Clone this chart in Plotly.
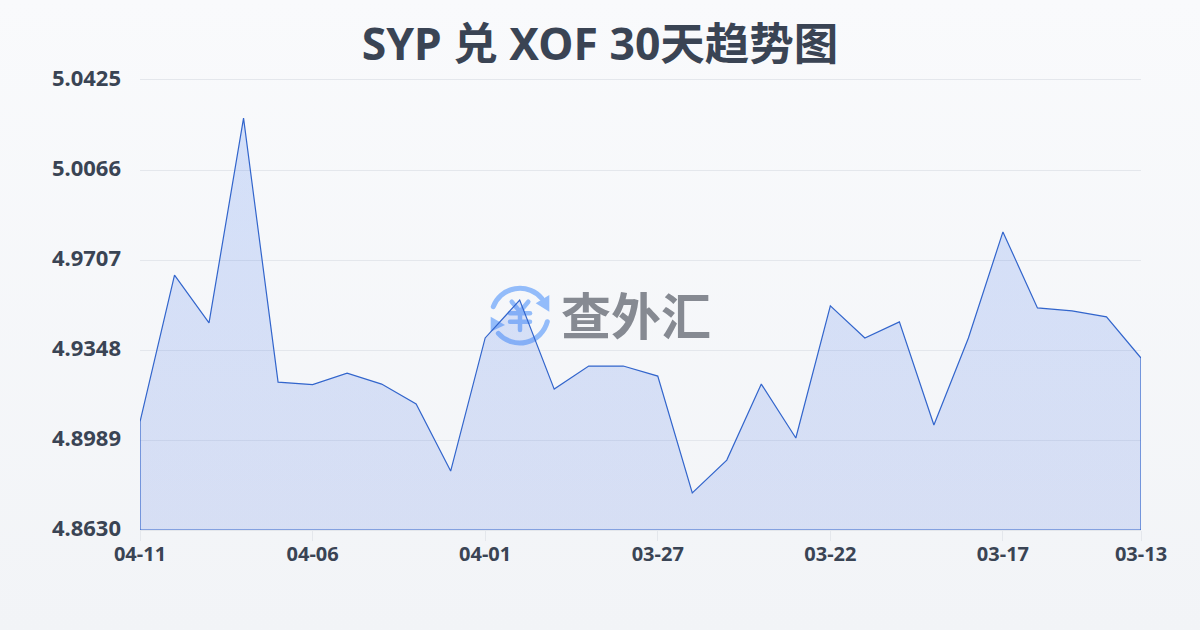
import base64
import plotly.graph_objects as go

dates = ["04-11","04-10","04-09","04-08","04-07","04-06","04-05","04-04","04-03","04-02",
         "04-01","03-31","03-30","03-29","03-28","03-27","03-26","03-25","03-24","03-23",
         "03-22","03-21","03-20","03-19","03-18","03-17","03-16","03-15","03-14","03-13"]
rates = [4.9061,4.9647,4.9456,5.0273,4.9220,4.9210,4.9256,4.9212,4.9133,4.8865,
         4.9396,4.9547,4.9192,4.9284,4.9284,4.9244,4.8778,4.8909,4.9212,4.8997,
         4.9524,4.9396,4.9460,4.9049,4.9396,4.9819,4.9516,4.9504,4.9480,4.9316]
y_ticks = [4.8630,4.8989,4.9348,4.9707,5.0066,5.0425]
y_labels = ["4.8630","4.8989","4.9348","4.9707","5.0066","5.0425"]
x_ticks = ["04-11","04-06","04-01","03-27","03-22","03-17","03-13"]
title = "SYP 兑 XOF 30天趋势图"
logo_text = "查外汇"

FONT = "'Noto Sans','Noto Sans CJK SC',sans-serif"
INK = "#3a4454"

def data_uri(svg):
    return "data:image/svg+xml;base64," + base64.b64encode(svg.encode()).decode()

bg = data_uri('<svg xmlns="http://www.w3.org/2000/svg" width="1200" height="630">'
              '<defs><linearGradient id="g" x1="0" y1="0" x2="0" y2="1">'
              '<stop offset="0" stop-color="#f9fafc"/><stop offset="1" stop-color="#f2f4f7"/>'
              '</linearGradient></defs><rect width="1200" height="630" fill="url(#g)"/></svg>')

logo = data_uri('<svg xmlns="http://www.w3.org/2000/svg" width="64" height="64" viewBox="0 0 64 64">'
                '<g fill="none" stroke="#93bcfa" stroke-width="5" stroke-linecap="round">'
                '<path d="M4.3 22.7 A28.5 28.5 0 0 1 52.7 14.3"/><path d="M58.3 37.7 A28.5 28.5 0 0 1 9.3 49.3"/></g>'
                '<path d="M46.7 19.3 L60.3 11 L60.3 27.7 Z" fill="#93bcfa"/><path d="M16 41 L1.7 32.7 L1.7 47.7 Z" fill="#93bcfa"/>'
                '<g fill="none" stroke="#93bcfa" stroke-width="4.5" stroke-linecap="round">'
                '<path d="M22.7 17.7 L31 27.7 L39.3 17.7"/><path d="M21 29.3 H41"/><path d="M21 37.7 H41"/><path d="M31 28 V46"/></g></svg>')

fig = go.Figure()
# closed outline: the series, then down to the axis floor and back to the start
fig.add_trace(go.Scatter(
    x=dates + [dates[-1], dates[0], dates[0]],
    y=rates + [y_ticks[0], y_ticks[0], rates[0]],
    mode="lines",
    line=dict(color="#3265cc", width=1.2),
    fill="toself",
    fillgradient=dict(type="vertical", colorscale=[[0, "rgba(70,110,225,0.165)"], [1, "rgba(70,125,240,0.20)"]]),
    hoverinfo="skip", showlegend=False, cliponaxis=False,
))
fig.update_layout(
    width=1200, height=630,
    margin=dict(l=140, r=59, t=80, b=100),
    paper_bgcolor="#f5f6f9", plot_bgcolor="rgba(0,0,0,0)",
    font=dict(family=FONT, color=INK),
    title=dict(text=f"<b>{title}</b>", x=0.5, xanchor="center", y=0.929, yanchor="middle",
               font=dict(size=44.5, color=INK, family=FONT)),
    images=[
        dict(source=bg, xref="paper", yref="paper", x=-140/1001, y=1+80/450, sizex=1200/1001, sizey=630/450,
             xanchor="left", yanchor="top", sizing="stretch", layer="below"),
        dict(source=logo, xref="paper", yref="paper", x=(489-140)/1001, y=(530-284)/450, sizex=64/1001, sizey=64/450,
             xanchor="left", yanchor="top", sizing="stretch", layer="below"),
    ],
    annotations=[dict(text=f"<b>{logo_text}</b>", xref="paper", yref="paper",
                      x=(636-140)/1001, y=(530-313)/450, showarrow=False,
                      font=dict(size=50, color="#868a92", family="'Noto Sans CJK SC'"))],
    xaxis=dict(type="category", categoryorder="array", categoryarray=dates, range=[0, len(dates)-1],
               tickmode="array", tickvals=x_ticks, ticktext=x_ticks,
               showgrid=False, zeroline=False, showline=True, mirror=True, linecolor="#e4e7ec", linewidth=1,
               layer="below traces",
               ticks="outside", ticklen=10, tickwidth=1, tickcolor="#e4e7ec", ticklabelstandoff=-4,
               tickfont=dict(size=20, color=INK, family=FONT, weight="bold")),
    yaxis=dict(range=[y_ticks[0], y_ticks[-1]], tickmode="array", tickvals=y_ticks, ticktext=y_labels,
               showgrid=True, gridcolor="#e4e7ec", gridwidth=1, zeroline=False, showline=False,
               ticks="", ticklabelstandoff=18, ticklabelshift=-2,
               tickfont=dict(size=22, color=INK, family=FONT, weight="bold")),
)
fig.write_html("out.html", config={"displayModeBar": False},
               post_script="document.documentElement.style.margin='0';document.body.style.margin='0';")
